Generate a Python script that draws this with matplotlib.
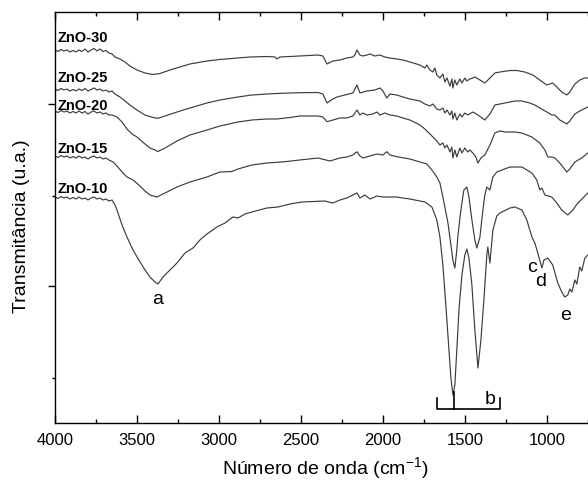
import matplotlib
matplotlib.use('Agg')
import matplotlib.pyplot as plt
import numpy as np

plt.rcParams['font.family'] = ['Liberation Sans', 'DejaVu Sans']
plt.rcParams['mathtext.fontset'] = 'custom'
plt.rcParams['mathtext.rm'] = 'Liberation Sans'
plt.rcParams['mathtext.it'] = 'Liberation Sans:italic'
plt.rcParams['mathtext.bf'] = 'Liberation Sans:bold'

# FTIR spectra (wavenumber cm-1, transmittance a.u.)
wn30 = [4000, 3982, 3963, 3945, 3927, 3909, 3890, 3872, 3854, 3835, 3817, 3799, 3780, 3762, 3744, 3726, 3707, 3689, 3671, 3652,
        3634, 3604, 3573, 3543, 3500, 3451, 3402, 3360, 3299, 3238, 3177, 3073, 2994, 2884, 2811, 2707, 2658, 2646, 2628, 2506,
        2396, 2366, 2341, 2305, 2262, 2220, 2183, 2171, 2158, 2140, 2122, 2098, 2079, 2049, 2018, 1988, 1957, 1915, 1878, 1835,
        1774, 1744, 1732, 1713, 1695, 1683, 1671, 1652, 1634, 1622, 1609, 1591, 1579, 1573, 1561, 1549, 1530, 1518, 1500, 1488,
        1470, 1451, 1439, 1408, 1378, 1347, 1317, 1286, 1225, 1183, 1134, 1085, 1043, 1000, 982, 964, 933, 909, 878, 860,
        829, 799, 768, 750]
t30 = [37.3, 37.15, 37.35, 37.2, 37.3, 37.1, 37.25, 37.1, 37.3, 37.15, 37.4, 37.1, 37.3, 37.45, 37.2, 37.4, 37.15, 37.25, 37.0, 36.9,
       36.6, 36.4, 36.1, 35.7, 35.3, 35.0, 34.85, 34.95, 35.3, 35.6, 35.9, 36.2, 36.35, 36.5, 36.6, 36.65, 36.6, 36.4, 36.6, 36.7,
       36.8, 36.7, 35.9, 36.2, 36.3, 36.5, 36.6, 36.8, 37.3, 36.8, 36.7, 36.8, 36.9, 36.7, 36.8, 36.6, 36.5, 36.4, 36.3, 36.1,
       35.8, 35.5, 35.8, 35.3, 35.1, 35.5, 34.8, 34.5, 34.9, 34.1, 34.5, 33.7, 34.4, 33.5, 34.3, 33.8, 34.4, 34.0, 34.5, 34.2,
       34.4, 34.5, 34.6, 34.3, 34.0, 34.5, 35.0, 35.1, 35.25, 35.25, 35.1, 34.8, 34.3, 33.8, 33.9, 34.0, 33.5, 33.1, 32.8, 33.1,
       33.9, 34.3, 34.5, 34.5]

wn25 = [4000, 3982, 3963, 3945, 3927, 3909, 3890, 3872, 3854, 3835, 3817, 3799, 3780, 3762, 3744, 3726, 3707, 3689, 3671, 3652,
        3634, 3604, 3573, 3543, 3500, 3451, 3402, 3372, 3329, 3256, 3177, 3073, 2994, 2884, 2799, 2707, 2646, 2567, 2506, 2396,
        2366, 2341, 2305, 2280, 2232, 2183, 2158, 2140, 2098, 2049, 2018, 2000, 1976, 1957, 1915, 1878, 1835, 1774, 1744, 1713,
        1695, 1671, 1652, 1634, 1622, 1609, 1591, 1579, 1573, 1561, 1549, 1530, 1518, 1500, 1482, 1451, 1420, 1378, 1347, 1317,
        1286, 1256, 1195, 1152, 1104, 1073, 1043, 1000, 970, 951, 921, 878, 860, 829, 799, 750]
t25 = [33.4, 33.25, 33.45, 33.3, 33.4, 33.2, 33.35, 33.2, 33.4, 33.25, 33.45, 33.2, 33.35, 33.5, 33.3, 33.4, 33.2, 33.3, 33.1, 33.2,
       32.9, 32.6, 32.2, 31.8, 31.3, 30.8, 30.55, 30.47, 30.7, 31.1, 31.5, 32.0, 32.3, 32.6, 32.8, 32.9, 32.95, 33.0, 33.03, 33.05,
       32.9, 32.0, 32.4, 32.6, 32.8, 33.0, 33.8, 33.0, 33.2, 33.3, 33.5, 33.2, 32.5, 32.9, 32.8, 32.6, 32.4, 32.2, 31.9, 31.7,
       31.9, 31.4, 31.3, 31.5, 31.0, 31.3, 30.8, 31.2, 30.4, 31.0, 30.3, 30.9, 30.6, 31.0, 30.8, 31.1, 30.8, 30.3, 30.9, 31.8,
       31.9, 32.0, 32.2, 32.2, 32.0, 31.8, 31.5, 31.1, 30.8, 30.8, 30.3, 29.9, 30.2, 30.9, 31.2, 31.6]

wn20 = [4000, 3982, 3963, 3945, 3927, 3909, 3890, 3872, 3854, 3835, 3817, 3799, 3780, 3762, 3744, 3726, 3707, 3689, 3671, 3652,
        3622, 3591, 3561, 3530, 3500, 3451, 3421, 3390, 3372, 3329, 3256, 3177, 3073, 2994, 2884, 2799, 2707, 2646, 2567, 2506,
        2396, 2366, 2341, 2305, 2262, 2220, 2183, 2158, 2140, 2122, 2098, 2061, 2036, 2018, 1988, 1957, 1915, 1878, 1835, 1774,
        1744, 1713, 1695, 1671, 1652, 1634, 1622, 1609, 1591, 1579, 1573, 1561, 1549, 1530, 1518, 1500, 1482, 1470, 1451, 1433,
        1420, 1402, 1378, 1347, 1317, 1286, 1256, 1195, 1152, 1091, 1043, 1012, 994, 970, 951, 921, 878, 860, 829, 787, 750]
t20 = [31.2, 31.05, 31.25, 31.1, 31.2, 31.0, 31.15, 31.0, 31.2, 31.0, 31.15, 30.9, 31.1, 31.2, 31.0, 31.1, 30.9, 31.0, 30.8, 30.8,
       30.6, 30.1, 29.4, 28.9, 28.6, 27.9, 27.5, 27.3, 27.15, 27.5, 28.2, 28.8, 29.3, 29.7, 30.1, 30.3, 30.4, 30.4, 30.55, 30.7,
       30.7, 30.6, 30.13, 30.3, 30.5, 30.5, 30.7, 31.3, 30.8, 31.0, 30.8, 30.9, 31.1, 30.8, 31.0, 30.8, 30.7, 30.5, 30.3, 29.8,
       29.4, 28.9, 28.6, 28.2, 27.8, 28.0, 27.5, 27.8, 27.1, 27.6, 26.5, 27.3, 26.6, 27.5, 27.0, 27.5, 27.1, 27.3, 27.0, 26.6,
       26.0, 26.5, 26.8, 27.8, 29.0, 29.2, 29.1, 29.1, 29.0, 28.6, 28.0, 27.3, 26.6, 26.6, 26.5, 26.0, 25.1, 25.4, 26.1, 26.5, 27.0]

wn15 = [4000, 3982, 3963, 3945, 3927, 3909, 3890, 3872, 3854, 3835, 3817, 3799, 3780, 3762, 3744, 3726, 3707, 3689, 3671, 3646,
        3622, 3591, 3561, 3524, 3482, 3451, 3421, 3378, 3329, 3256, 3177, 3073, 2994, 2921, 2884, 2799, 2707, 2597, 2506, 2396,
        2323, 2262, 2220, 2183, 2158, 2140, 2122, 2079, 2036, 2000, 1976, 1957, 1915, 1835, 1774, 1732, 1701, 1671, 1652, 1634,
        1616, 1603, 1585, 1573, 1561, 1549, 1543, 1530, 1518, 1506, 1488, 1475, 1457, 1439, 1427, 1408, 1390, 1378, 1366, 1347,
        1329, 1305, 1274, 1225, 1152, 1091, 1061, 1043, 1030, 1012, 970, 939, 909, 872, 841, 811, 780, 750]
t15 = [26.7, 26.55, 26.75, 26.6, 26.7, 26.5, 26.65, 26.5, 26.7, 26.5, 26.6, 26.4, 26.6, 26.7, 26.5, 26.6, 26.4, 26.5, 26.3, 26.1,
       25.7, 25.1, 24.6, 24.3, 23.7, 23.2, 22.8, 22.6, 23.0, 23.6, 24.1, 24.6, 25.1, 25.15, 25.4, 25.8, 26.0, 26.13, 26.3, 26.5,
       26.2, 26.5, 26.6, 26.8, 27.13, 26.7, 26.5, 26.7, 26.9, 26.8, 27.13, 26.8, 26.63, 26.4, 26.1, 25.9, 25.3, 24.6, 24.0, 22.6,
       21.1, 20.0, 17.8, 16.3, 15.5, 17.3, 18.6, 20.5, 22.0, 23.3, 23.6, 22.6, 20.3, 18.3, 17.5, 18.6, 21.3, 22.8, 23.6, 23.3,
       24.6, 25.1, 25.3, 25.6, 25.6, 25.0, 24.3, 23.3, 23.5, 22.8, 22.6, 22.0, 21.3, 20.8, 21.3, 22.0, 22.5, 23.0]

wn10 = [4000, 3982, 3963, 3945, 3927, 3909, 3890, 3872, 3854, 3835, 3817, 3799, 3780, 3762, 3744, 3726, 3707, 3689, 3671, 3652,
        3634, 3622, 3591, 3561, 3530, 3500, 3451, 3421, 3390, 3372, 3341, 3299, 3256, 3207, 3158, 3116, 3073, 3012, 2963, 2915,
        2884, 2841, 2799, 2707, 2640, 2567, 2494, 2354, 2305, 2262, 2220, 2183, 2158, 2140, 2110, 2079, 2036, 2000, 1957, 1915,
        1878, 1835, 1774, 1744, 1701, 1671, 1652, 1634, 1616, 1597, 1585, 1573, 1561, 1549, 1536, 1518, 1500, 1488, 1475, 1457,
        1439, 1420, 1402, 1384, 1366, 1360, 1347, 1329, 1305, 1286, 1225, 1195, 1152, 1122, 1091, 1073, 1055, 1030, 1018, 994,
        964, 933, 909, 890, 872, 860, 847, 829, 817, 799, 787, 768, 750]
t10 = [22.6, 22.45, 22.65, 22.5, 22.6, 22.4, 22.55, 22.4, 22.6, 22.4, 22.5, 22.3, 22.5, 22.6, 22.4, 22.5, 22.3, 22.4, 22.2, 22.3,
       21.8, 21.3, 19.8, 18.6, 17.5, 16.6, 15.3, 14.6, 14.1, 13.9, 14.6, 15.3, 16.0, 17.0, 17.5, 18.3, 18.9, 19.6, 20.0, 20.6,
       20.5, 20.9, 21.1, 21.5, 21.6, 21.9, 22.1, 22.2, 22.0, 22.3, 22.5, 22.8, 23.0, 22.5, 22.8, 22.4, 22.7, 22.6, 22.6, 22.6,
       22.5, 22.4, 22.2, 22.1, 21.6, 20.3, 18.6, 15.8, 11.8, 7.3, 4.5, 2.8, 3.8, 7.3, 11.3, 14.8, 16.8, 17.4, 16.5, 13.8,
       9.3, 5.5, 8.3, 12.3, 16.8, 17.6, 16.0, 19.3, 20.7, 21.0, 21.5, 21.6, 21.3, 20.3, 18.6, 18.0, 17.0, 15.5, 16.3, 16.5,
       15.8, 14.0, 13.1, 12.6, 12.8, 13.4, 13.1, 14.3, 13.9, 15.6, 15.2, 16.5, 16.8]

samples = ['ZnO-30', 'ZnO-25', 'ZnO-20', 'ZnO-15', 'ZnO-10']
label_y = [38.1, 34.1, 31.3, 27.0, 23.0]

# band labels: letter, wavenumber, transmittance
bands = [('a', 3372, 12.3), ('b', 1347, 2.3), ('c', 1091, 15.5), ('d', 1037, 14.1), ('e', 884, 10.8)]
b_range = (1671, 1286)
b_center = 1567

fig = plt.figure(figsize=(5.88, 4.87), dpi=100)
ax = fig.add_axes([55 / 588, 64 / 487, 541 / 588, 411 / 487])

line_color = '#3c3c3c'
for wn, t in [(wn30, t30), (wn25, t25), (wn20, t20), (wn15, t15), (wn10, t10)]:
    ax.plot(wn, t, color=line_color, lw=0.85)

for name, y in zip(samples, label_y):
    ax.text(3982, y, name, fontsize=10.5, fontweight='bold', ha='left', va='baseline')

for letter, x, y in bands:
    ax.text(x, y, letter, fontsize=14, ha='center', va='center')

# bracket for band b
ax.plot([b_range[0], b_range[0], b_range[1], b_range[1]], [2.5, 1.4, 1.4, 2.5], color='k', lw=1.2)
ax.plot([b_center, b_center], [1.4, 3.1], color='k', lw=1.2)

ax.set_xlim(4000, 700)
ax.set_ylim(0, 41.1)
ax.set_xticks([4000, 3500, 3000, 2500, 2000, 1500, 1000])
ax.set_xticks([3750, 3250, 2750, 2250, 1750, 1250, 750], minor=True)
ax.set_yticks([13.7, 31.9])
ax.set_yticks([4.5, 22.7], minor=True)
ax.set_yticklabels([])

ax.tick_params(axis='x', which='both', direction='in', top=True, labelsize=12, pad=7)
ax.tick_params(axis='x', which='major', length=5.8, width=1)
ax.tick_params(axis='x', which='minor', length=3, width=1)
ax.tick_params(axis='y', which='both', direction='out', right=False)
ax.tick_params(axis='y', which='major', length=5, width=1)
ax.tick_params(axis='y', which='minor', length=2.5, width=1)
for s in ax.spines.values():
    s.set_linewidth(1.0)

ax.set_xlabel('Número de onda (cm$^{\\mathrm{-1}}$)', fontsize=14)
ax.set_ylabel('Transmitância (u.a.)', fontsize=14)
ax.xaxis.set_label_coords(0.5, -0.078)
ax.xaxis.label.set_va('top')
ax.yaxis.set_label_coords(-0.046, 0.48)

fig.savefig('out.png', dpi=100)
